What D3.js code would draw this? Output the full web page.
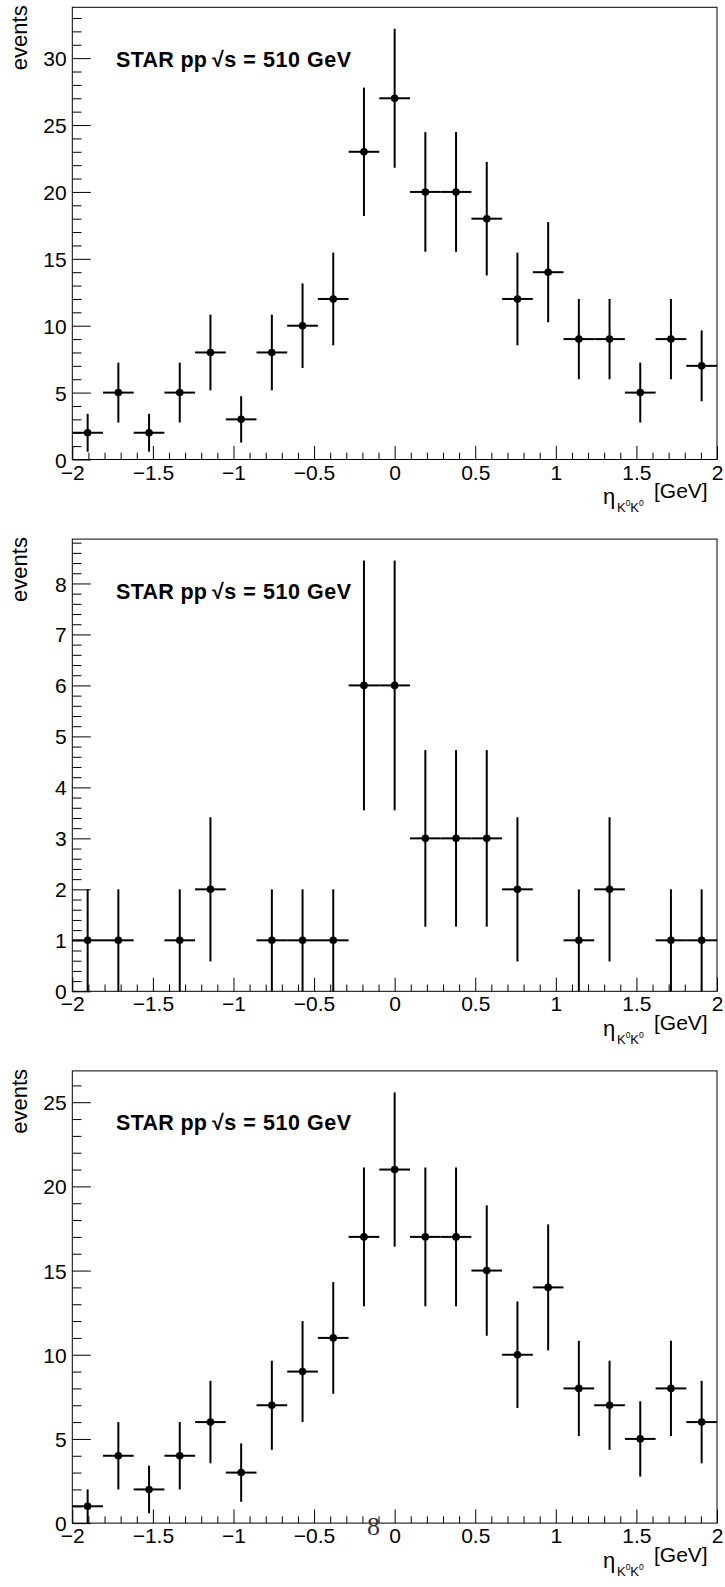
<!DOCTYPE html>
<html>
<head>
<meta charset="utf-8">
<script src="https://cdn.jsdelivr.net/npm/d3@7"></script>
<style>
html,body{margin:0;padding:0;background:#fff;}
svg{display:block;}
text{font-family:"Liberation Sans",Arial,Helvetica,sans-serif;}
</style>
</head>
<body>
<svg id="chart" width="725" height="1587"></svg>
<script>
// ---- data ----
const nBins = 21;
const xRange = [-2, 2];
const counts1 = [2, 5, 2, 5, 8, 3, 8, 10, 12, 23, 27, 20, 20, 18, 12, 14, 9, 9, 5, 9, 7];
const counts2 = [1, 1, 0, 1, 2, 0, 1, 1, 1, 6, 6, 3, 3, 3, 2, 0, 1, 2, 0, 1, 1];
const counts3 = [1, 4, 2, 4, 6, 3, 7, 9, 11, 17, 21, 17, 17, 15, 10, 14, 8, 7, 5, 8, 6];
const yMaxes = [33.8, 8.87, 26.86];
const xTickValues = [-2, -1.5, -1, -0.5, 0, 0.5, 1, 1.5, 2];
const xTickLabels = ["\u22122", "\u22121.5", "\u22121", "\u22120.5", "0", "0.5", "1", "1.5", "2"];
const yTicks1 = [0, 5, 10, 15, 20, 25, 30];
const yTicks2 = [0, 1, 2, 3, 4, 5, 6, 7, 8];
const yTicks3 = [0, 5, 10, 15, 20, 25];
const yMinorStep = [1, 0.2, 1];
const yTitle = "events";
const labelText = ["STAR pp", "\u221As = 510 GeV"];
const pageNumber = "8";

// ---- layout ----
const frameLeft = 72.3, frameRight = 717, frameH = 452.2;
const panelTops = [7.3, 539.1, 1070.9];
const FS = 21;

const svg = d3.select("#chart");
const edges = d3.range(nBins + 1).map(i => xRange[0] + i * (xRange[1] - xRange[0]) / nBins);

const panels = [
  {counts: counts1, yMax: yMaxes[0], yTicks: yTicks1, minor: yMinorStep[0]},
  {counts: counts2, yMax: yMaxes[1], yTicks: yTicks2, minor: yMinorStep[1]},
  {counts: counts3, yMax: yMaxes[2], yTicks: yTicks3, minor: yMinorStep[2]}
];

panels.forEach((p, pi) => {
  const top = panelTops[pi], bottom = top + frameH;
  const x = d3.scaleLinear().domain(xRange).range([frameLeft, frameRight]);
  const y = d3.scaleLinear().domain([0, p.yMax]).range([bottom, top]);
  const g = svg.append("g");

  // minor x ticks
  const xMinor = d3.range(-20, 21).map(i => i / 10).filter(v => Math.abs(v * 2 - Math.round(v * 2)) > 1e-6);
  g.append("g").attr("transform", `translate(0,${bottom})`)
    .call(d3.axisBottom(x).tickValues(xMinor).tickSize(-6.8).tickFormat(""))
    .call(a => a.select(".domain").remove());
  // major x ticks
  const xa = g.append("g").attr("transform", `translate(0,${bottom})`)
    .call(d3.axisBottom(x).tickValues(xTickValues).tickSize(-13.6).tickPadding(5.2)
      .tickFormat((d, i) => xTickLabels[i]));
  xa.select(".domain").remove();
  xa.attr("font-size", null).attr("font-family", null);
  xa.selectAll("text").attr("font-size", FS).attr("fill", "#000");

  // minor y ticks
  const yMinor = d3.range(0, Math.floor(p.yMax / p.minor + 1e-6) + 1).map(i => +(i * p.minor).toFixed(4))
    .filter(v => !p.yTicks.some(t => Math.abs(t - v) < 1e-6));
  g.append("g").attr("transform", `translate(${frameLeft},0)`)
    .call(d3.axisLeft(y).tickValues(yMinor).tickSize(-9.2).tickFormat(""))
    .call(a => a.select(".domain").remove());
  const ya = g.append("g").attr("transform", `translate(${frameLeft},0)`)
    .call(d3.axisLeft(y).tickValues(p.yTicks).tickSize(-18.5).tickPadding(5.6).tickFormat(d3.format("d")));
  ya.select(".domain").remove();
  ya.attr("font-size", null).attr("font-family", null);
  ya.selectAll("text").attr("font-size", FS).attr("fill", "#000").attr("dy", "0.36em");
  g.selectAll(".tick line").attr("stroke", "#000").attr("stroke-width", 1);

  // frame
  g.append("rect").attr("x", frameLeft).attr("y", top)
    .attr("width", frameRight - frameLeft).attr("height", frameH)
    .attr("fill", "none").attr("stroke", "#000").attr("stroke-width", 1);

  // data
  const bins = p.counts.map((c, i) => ({c, lo: edges[i], hi: edges[i + 1], mid: (edges[i] + edges[i + 1]) / 2}))
    .filter(b => b.c > 0);
  const dg = g.append("g");
  dg.selectAll("line.h").data(bins).join("line").attr("class", "h")
    .attr("x1", b => x(b.lo)).attr("x2", b => x(b.hi))
    .attr("y1", b => y(b.c)).attr("y2", b => y(b.c))
    .attr("stroke", "#000").attr("stroke-width", 2);
  dg.selectAll("line.v").data(bins).join("line").attr("class", "v")
    .attr("x1", b => x(b.mid)).attr("x2", b => x(b.mid))
    .attr("y1", b => y(Math.max(0, b.c - Math.sqrt(b.c)))).attr("y2", b => y(b.c + Math.sqrt(b.c)))
    .attr("stroke", "#000").attr("stroke-width", 2);
  dg.selectAll("circle").data(bins).join("circle")
    .attr("cx", b => x(b.mid)).attr("cy", b => y(b.c)).attr("r", 3.8).attr("fill", "#000");

  // y title
  g.append("text").attr("transform", `translate(27,${top - 2}) rotate(-90)`)
    .attr("text-anchor", "end").attr("font-size", FS + 1).text(yTitle);

  // x title: eta_{K0K0} [GeV]
  const tb = bottom + 38.6;
  const xt = g.append("g");
  xt.append("text").attr("x", 603).attr("y", tb + 6).attr("font-size", FS + 1).text("\u03B7");
  xt.append("text").attr("x", 617).attr("y", tb + 14.2).attr("font-size", 13).text("K");
  xt.append("text").attr("x", 625.8).attr("y", tb + 8.3).attr("font-size", 8.5).text("0");
  xt.append("text").attr("x", 630.3).attr("y", tb + 14.2).attr("font-size", 13).text("K");
  xt.append("text").attr("x", 639.1).attr("y", tb + 8.3).attr("font-size", 8.5).text("0");
  xt.append("text").attr("x", 654).attr("y", tb).attr("font-size", FS).text("[GeV]");

  // STAR label
  const lb = top + 59.5;
  g.append("text").attr("x", 116).attr("y", lb).attr("font-size", 21.5).attr("font-weight", "bold")
    .attr("textLength", 91).attr("lengthAdjust", "spacing").text(labelText[0]);
  g.append("text").attr("x", 212).attr("y", lb).attr("font-size", 21.5).attr("font-weight", "bold")
    .attr("textLength", 139).attr("lengthAdjust", "spacing").text(labelText[1]);
});

// stray page number
svg.append("text").attr("x", 373.5).attr("y", 1535).attr("text-anchor", "middle")
  .attr("font-size", 26).attr("fill", "#333")
  .style("font-family", "'Liberation Serif','DejaVu Serif',serif").text(pageNumber);
</script>
</body>
</html>
